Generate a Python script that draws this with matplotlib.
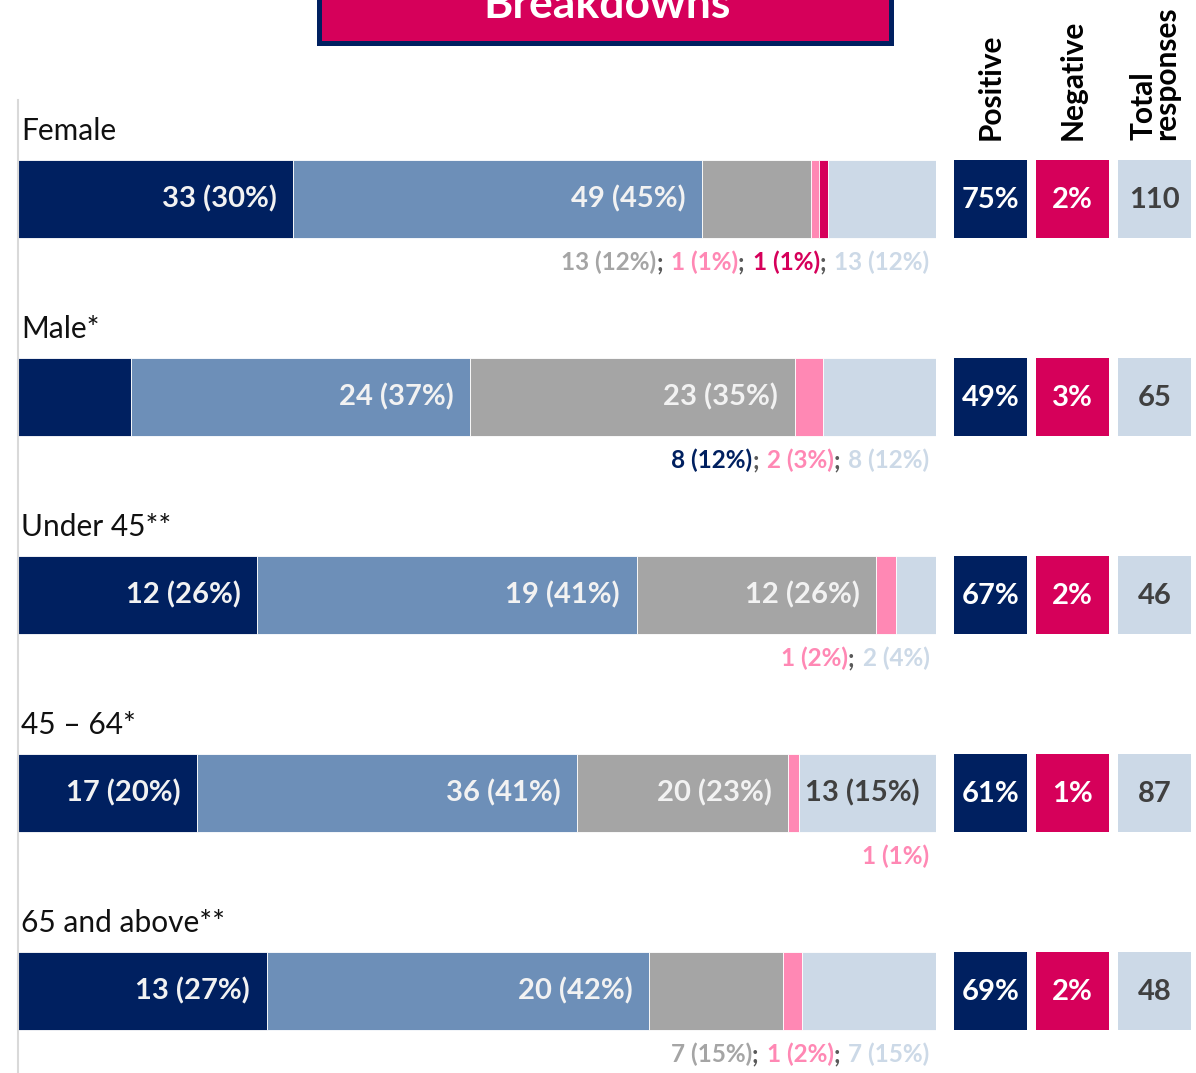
import matplotlib
matplotlib.use('Agg')
import matplotlib.pyplot as plt
from matplotlib.patches import Rectangle
from matplotlib.transforms import offset_copy

plt.rcParams['font.family'] = ['Lato', 'DejaVu Sans']

groups = ['Female', 'Male*', 'Under 45**', '45 – 64*', '65 and above**']
very_good = [33, 8, 12, 17, 13]
good = [49, 24, 19, 36, 20]
neutral = [13, 23, 12, 20, 7]
poor = [1, 2, 1, 1, 1]
very_poor = [1, 0, 0, 0, 0]
dont_know = [13, 8, 2, 13, 7]
positive = ['75%', '49%', '67%', '61%', '69%']
negative = ['2%', '3%', '2%', '1%', '2%']
totals = [110, 65, 46, 87, 48]
# segments whose label sits inside the bar; the others go on the line below
inside = [
    [1, 1, 0, 0, 0, 0],
    [0, 1, 1, 0, 0, 0],
    [1, 1, 1, 0, 0, 0],
    [1, 1, 1, 0, 0, 1],
    [1, 1, 0, 0, 0, 0],
]

NAVY = '#002060'
STEEL = '#6D8FB8'
GREY = '#A5A5A5'
PINK = '#FF88B4'
MAGENTA = '#D6005A'
LIGHT = '#CCD9E7'
DARK = '#404040'
OFFWHITE = '#F2F2F2'

seg_colors = [NAVY, STEEL, GREY, PINK, MAGENTA, LIGHT]
inside_text = [OFFWHITE, OFFWHITE, OFFWHITE, OFFWHITE, OFFWHITE, DARK]
below_text = [NAVY, STEEL, GREY, PINK, MAGENTA, LIGHT]

W, H = 1196, 1073
fig = plt.figure(figsize=(W / 100, H / 100), dpi=100)

# bars axis: pixel x 18..936, pixel y 100..1073, rows at y=i
ax = fig.add_axes([18 / W, 0, 918 / W, 973 / H])
ax.set_xlim(0, 1)
ax.set_ylim((1073 - 199) / 198, -0.5)
for s in ['top', 'right', 'bottom']:
    ax.spines[s].set_visible(False)
ax.spines['left'].set_color('#D9D9D9')
ax.spines['left'].set_linewidth(1.5)
ax.set_xticks([])
ax.set_yticks([])

BH = 78 / 198
renderer = fig.canvas.get_renderer()


def right_pieces(x, y, pieces, size):
    texts = []
    gaps = []
    for s, c, gap in pieces:
        t = ax.text(x, y, s, color=c, fontsize=size, fontweight='bold',
                    ha='left', va='baseline')
        texts.append(t)
        gaps.append(gap)
    widths = [t.get_window_extent(renderer).width for t in texts]
    total = sum(widths) + sum(gaps)
    pos = -total
    for t, w, g in zip(texts, widths, gaps):
        t.set_transform(offset_copy(ax.transData, fig=fig, x=pos, y=0, units='dots'))
        pos += w + g


rows = list(zip(very_good, good, neutral, poor, very_poor, dont_know))
for i, vals in enumerate(rows):
    n = totals[i]
    left = 0
    below = []
    for k, v in enumerate(vals):
        share = v / n
        if v > 0:
            ax.barh(i, share, left=left, height=BH, color=seg_colors[k],
                    edgecolor='white', linewidth=0.6)
            label = f'{v} ({round(100 * share)}%)'
            if inside[i][k]:
                ax.annotate(label, xy=(left + share, i + 0.045), xytext=(-12, 0),
                            textcoords='offset points', ha='right', va='baseline',
                            fontsize=21, fontweight='bold', color=inside_text[k])
            else:
                below.append((label, below_text[k]))
        left += share
    pieces = []
    for j, (lab, c) in enumerate(below):
        pieces.append((lab, c, 0))
        if j < len(below) - 1:
            pieces.append((';', '#595959', 8))
    if pieces:
        right_pieces(0.993, i + 0.36, pieces, 17.5)
    ax.text(0.003, i - 0.30, groups[i], fontsize=21.5, color='#111111',
            ha='left', va='baseline')

# summary boxes
sx = fig.add_axes([954 / W, 0, 238 / W, 973 / H])
sx.set_xlim(0, 2.9)
sx.set_ylim(ax.get_ylim())
sx.axis('off')
box_w = 73 / 82
for i in range(len(groups)):
    cells = [(positive[i], NAVY, 'white'), (negative[i], MAGENTA, 'white'),
             (str(totals[i]), LIGHT, DARK)]
    for k, (txt, fc, tc) in enumerate(cells):
        sx.barh(i, box_w, left=k, height=BH, color=fc)
        sx.text(k + box_w / 2, i + 0.045, txt, ha='center', va='baseline',
                fontsize=21, fontweight='bold', color=tc)

headers = ['Positive', 'Negative', 'Total\nresponses']
for k, h in enumerate(headers):
    sx.text(k + box_w / 2, (140 - 199) / 198, h, rotation=90, ha='center',
            va='bottom', ma='left', fontsize=21.5, fontweight='bold',
            color='black', linespacing=0.75, clip_on=False)

# title box
fig.add_artist(Rectangle((318.5 / W, 1 - 42.5 / H), 572 / W, 80 / H,
                         transform=fig.transFigure, facecolor=MAGENTA,
                         edgecolor=NAVY, linewidth=3.6, clip_on=False))
fig.text(607 / W, 1 - 18 / H, 'Breakdowns', ha='center', va='baseline',
         fontsize=32, fontweight='bold', color='white')

fig.savefig('out.png', dpi=100)
